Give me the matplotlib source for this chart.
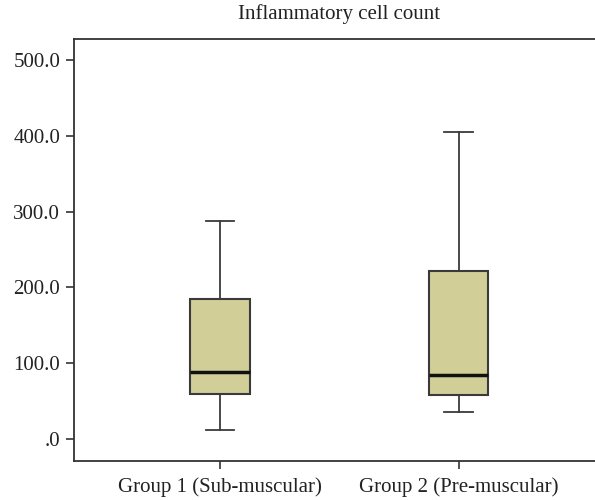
import matplotlib
matplotlib.use("Agg")
import matplotlib.pyplot as plt
from matplotlib.ticker import FuncFormatter

groups = ["Group 1 (Sub-muscular)", "Group 2 (Pre-muscular)"]
whislo = [11.5, 35.3]
q1 = [59.0, 57.3]
med = [87.7, 83.7]
q3 = [184.1, 222.0]
whishi = [287.6, 405.6]
yticks = [0, 100, 200, 300, 400, 500]
title = "Inflammatory cell count"

plt.rcParams['font.family'] = ['Liberation Serif', 'DejaVu Serif']

fig = plt.figure(figsize=(5.95, 5.0), dpi=100)
ax = fig.add_axes([74/595, 39.3/500, 1 - 74/595, (460.7-38.7)/500])

stats = []
for i, g in enumerate(groups):
    stats.append(dict(label=g, whislo=whislo[i], q1=q1[i], med=med[i],
                      q3=q3[i], whishi=whishi[i], fliers=[]))

edge = "#3a3a3a"
ax.bxp(stats, positions=[1, 2], widths=0.248, patch_artist=True,
       showfliers=False,
       boxprops=dict(facecolor="#d1ce97", edgecolor=edge, linewidth=1.5),
       medianprops=dict(color="#111111", linewidth=2.5),
       whiskerprops=dict(color=edge, linewidth=1.3),
       capprops=dict(color=edge, linewidth=1.3),
       capwidths=0.12)

ax.set_xlim(0.388, 2.571)
ax.set_ylim(-29.1, 528.4)
ax.set_yticks(yticks)
ax.yaxis.set_major_formatter(FuncFormatter(lambda v, p: ".0" if v == 0 else f"{v:.1f}"))
for s in ["left", "top", "bottom"]:
    ax.spines[s].set_color("#333333")
    ax.spines[s].set_linewidth(1.3)
ax.spines["right"].set_visible(False)
ax.tick_params(axis="both", direction="out", length=6, width=1.2, color="#333333",
               labelsize=15, labelcolor="#222222")
ax.tick_params(axis="y", pad=4)
ax.tick_params(axis="x", pad=6)

fig.text(339/595, 1 - 14/500, title, ha="center", va="center", fontsize=15, color="#222222")

fig.savefig("out.png", dpi=100)
